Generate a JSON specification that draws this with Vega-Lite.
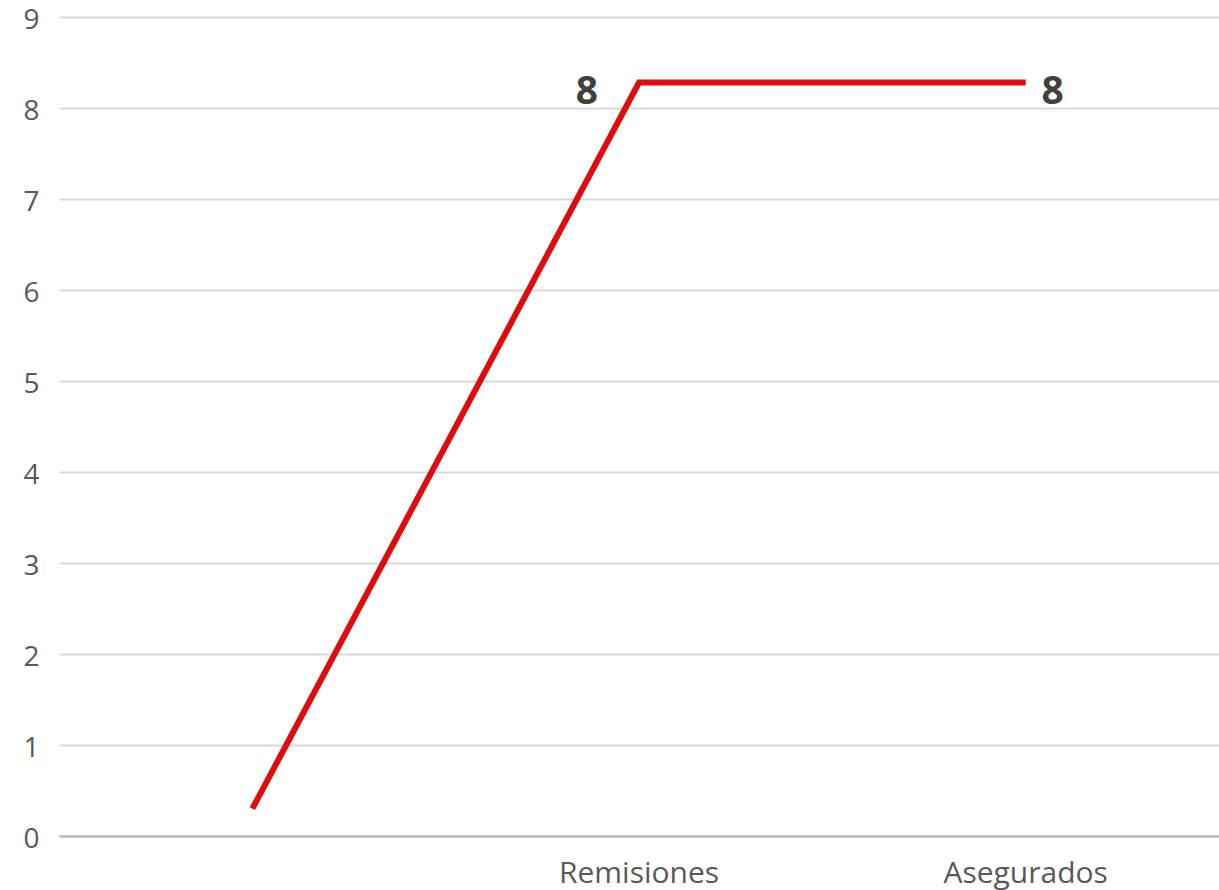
{
  "$schema": "https://vega.github.io/schema/vega-lite/v6.json",
  "width": 1219,
  "height": 890,
  "autosize": {"type": "fit", "contains": "padding"},
  "padding": {"top": 6, "left": 22, "right": 0, "bottom": 2},
  "background": "white",
  "config": {"view": {"stroke": null}},
  "data": {
    "values": [
      {"categoria": " ", "valor": 0.3, "etiqueta": ""},
      {"categoria": "Remisiones", "valor": 8.28, "etiqueta": "8"},
      {"categoria": "Asegurados", "valor": 8.28, "etiqueta": "8"}
    ]
  },
  "encoding": {
    "x": {
      "field": "categoria",
      "type": "nominal",
      "sort": null,
      "scale": {"type": "band", "paddingInner": 0, "paddingOuter": 0},
      "axis": {
        "title": null,
        "labelAngle": 0,
        "labelFont": "Open Sans",
        "labelFontSize": 30,
        "labelColor": "#595959",
        "labelPadding": 22,
        "ticks": false,
        "domain": true,
        "domainColor": "#bcbcbc",
        "domainWidth": 2.5,
        "grid": false
      }
    },
    "y": {
      "field": "valor",
      "type": "quantitative",
      "scale": {"domain": [0, 9], "nice": false, "zero": true},
      "axis": {
        "title": null,
        "values": [0, 1, 2, 3, 4, 5, 6, 7, 8, 9],
        "labelFont": "Open Sans",
        "labelFontSize": 28,
        "labelColor": "#595959",
        "labelPadding": 20,
        "labelOffset": 3,
        "ticks": false,
        "domain": false,
        "grid": true,
        "gridColor": "#d9d9d9",
        "gridWidth": 2
      }
    }
  },
  "layer": [
    {
      "mark": {"type": "line", "color": "#e00b0b", "strokeWidth": 6}
    },
    {
      "transform": [{"filter": "datum.categoria == 'Remisiones'"}],
      "mark": {"type": "text", "font": "Open Sans", "fontWeight": "bold", "fontSize": 39, "color": "#404040", "dx": -52, "dy": 9, "baseline": "middle", "align": "center"},
      "encoding": {"text": {"field": "etiqueta"}}
    },
    {
      "transform": [{"filter": "datum.categoria == 'Asegurados'"}],
      "mark": {"type": "text", "font": "Open Sans", "fontWeight": "bold", "fontSize": 39, "color": "#404040", "dx": 27, "dy": 9, "baseline": "middle", "align": "center"},
      "encoding": {"text": {"field": "etiqueta"}}
    }
  ]
}
